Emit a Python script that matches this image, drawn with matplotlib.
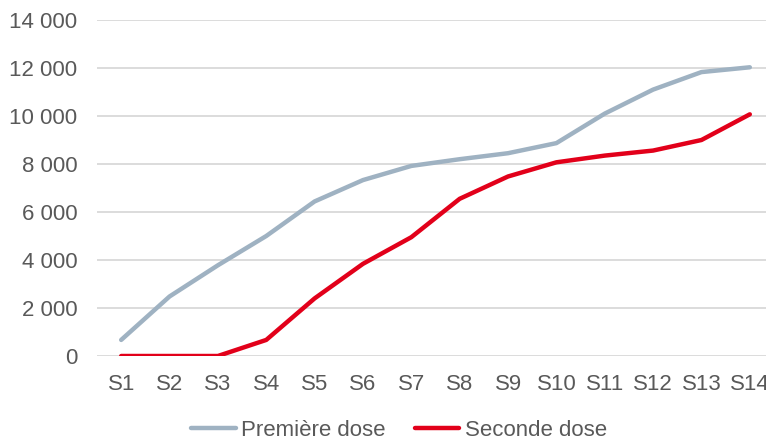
import matplotlib
matplotlib.use("Agg")
import matplotlib.pyplot as plt
from matplotlib.ticker import FuncFormatter, MultipleLocator

weeks = ["S%d" % i for i in range(1, 15)]
premiere_dose = [670, 2480, 3780, 5000, 6440, 7330, 7920, 8200, 8450, 8870,
                 10100, 11100, 11830, 12030]
seconde_dose = [0, 0, 0, 670, 2400, 3840, 4950, 6550, 7480, 8070,
                8350, 8560, 9000, 10070]

plt.rcParams['font.family'] = ['Liberation Sans', 'DejaVu Sans']
text_color = "#595959"

fig = plt.figure(figsize=(7.66, 4.43), dpi=100)
ax = fig.add_axes([97 / 766, 1 - 356 / 443, 677 / 766, 336 / 443])

x = range(len(weeks))
ax.plot(x, premiere_dose, color="#9FB2C2", linewidth=3.2, label="Première dose",
        solid_capstyle="round", zorder=3)
ax.plot(x, seconde_dose, color="#E2001A", linewidth=3.2, label="Seconde dose",
        solid_capstyle="round", zorder=4)

ax.set_xlim(-0.5, len(weeks) - 0.5)
ax.set_ylim(0, 14000)
ax.yaxis.set_major_locator(MultipleLocator(2000))
ax.yaxis.set_major_formatter(FuncFormatter(lambda v, p: f"{v:,.0f}".replace(",", " ")))
ax.set_xticks(list(x))
ax.set_xticklabels(weeks)

ax.grid(axis="y", color="#D9D9D9", linewidth=1.3, zorder=0)
ax.set_axisbelow(True)
for s in ax.spines.values():
    s.set_visible(False)
ax.tick_params(axis="both", length=0, labelsize=16, colors=text_color)
ax.tick_params(axis="y", pad=14)
ax.tick_params(axis="x", pad=13)

# legend sits a bit right of centre in the original
leg = fig.legend(loc="center", bbox_to_anchor=(0.5 + 16 / 766, 1 - 430 / 443), ncol=2,
                 frameon=False, fontsize=16, handlelength=2.0,
                 handletextpad=0.25, columnspacing=1.3, labelcolor=text_color)

fig.savefig("out.png", dpi=100)
